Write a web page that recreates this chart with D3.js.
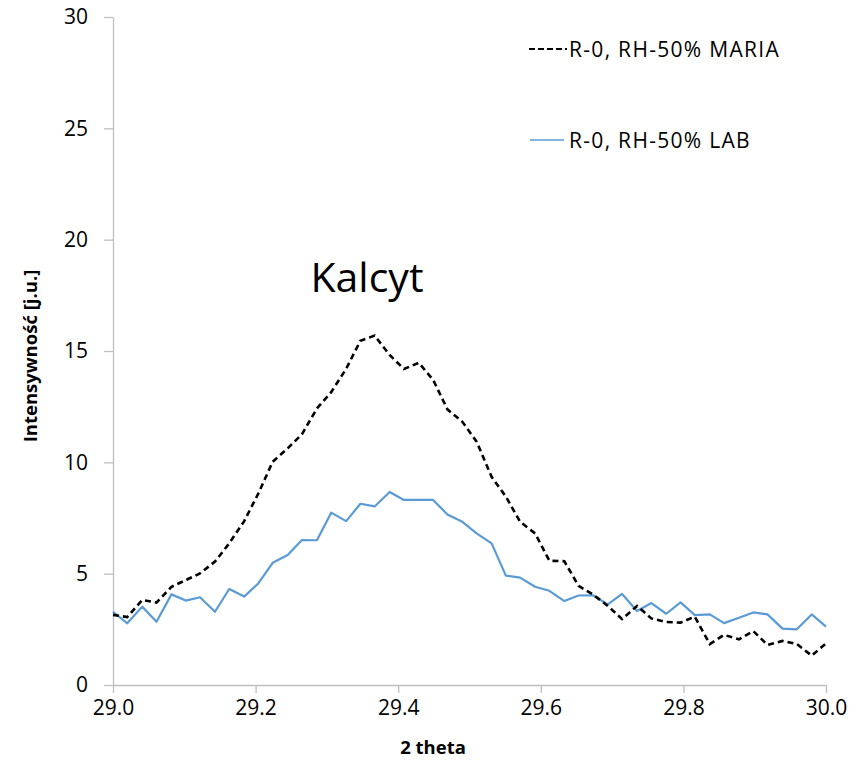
<!DOCTYPE html>
<html><head><meta charset="utf-8">
<script src="https://cdn.jsdelivr.net/npm/d3@7"></script>
<style>body{margin:0;background:#fff;} text{font-family:"Open Sans",sans-serif;}</style>
</head><body>
<svg id="c" width="865" height="769"></svg>
<script>
const xValues = [29.000,29.020,29.041,29.061,29.082,29.102,29.122,29.143,29.163,29.184,29.204,29.224,29.245,29.265,29.286,29.306,29.327,29.347,29.367,29.388,29.408,29.429,29.449,29.469,29.490,29.510,29.531,29.551,29.571,29.592,29.612,29.633,29.653,29.673,29.694,29.714,29.735,29.755,29.776,29.796,29.816,29.837,29.857,29.878,29.898,29.918,29.939,29.959,29.980,30.000];
const mariaValues = [3.15,3.05,3.82,3.70,4.41,4.71,5.01,5.54,6.36,7.36,8.61,10.03,10.63,11.26,12.42,13.15,14.20,15.46,15.69,14.82,14.19,14.47,13.70,12.38,11.82,10.93,9.35,8.46,7.33,6.81,5.58,5.56,4.45,4.07,3.55,2.96,3.55,2.99,2.83,2.80,3.07,1.84,2.25,2.05,2.42,1.80,1.98,1.84,1.32,1.87];
const labValues = [3.29,2.77,3.52,2.84,4.07,3.79,3.94,3.29,4.31,3.97,4.57,5.49,5.84,6.51,6.50,7.74,7.36,8.14,8.02,8.67,8.31,8.31,8.31,7.66,7.33,6.81,6.36,4.91,4.82,4.41,4.23,3.77,4.02,4.03,3.62,4.09,3.32,3.68,3.20,3.71,3.14,3.17,2.78,3.02,3.26,3.17,2.53,2.50,3.17,2.62];
const xTicks = [29.0,29.2,29.4,29.6,29.8,30.0];
const yTicks = [0,5,10,15,20,25,30];
const seriesNames = ["R-0, RH-50% MARIA","R-0, RH-50% LAB"];

const svg = d3.select("#c");
const x = d3.scaleLinear().domain([29,30]).range([113,826]);
const y = d3.scaleLinear().domain([0,30]).range([685,17]);
const axisColor = "#bfbfbf";

const xa = svg.append("g").attr("transform","translate(0,685)")
  .call(d3.axisBottom(x).tickValues(xTicks).tickFormat(d3.format(".1f")).tickSize(8).tickSizeOuter(0).tickPadding(7));
const ya = svg.append("g").attr("transform","translate(113,0)")
  .call(d3.axisLeft(y).tickValues(yTicks).tickSize(9).tickSizeOuter(0).tickPadding(16));
[xa,ya].forEach(a=>{
  a.select(".domain").attr("stroke",axisColor).attr("stroke-width",1.3);
  a.selectAll(".tick line").attr("stroke",axisColor).attr("stroke-width",1.3);
  a.selectAll(".tick text").attr("fill","#000").style("font-size","21px").style("font-family","Open Sans");
});

const line = d3.line().x((d,i)=>x(xValues[i])).y(d=>y(d));
svg.append("path").datum(labValues).attr("d",line).attr("fill","none")
  .attr("stroke","#5b9bd5").attr("stroke-width",2.2).attr("stroke-linejoin","round");
svg.append("path").datum(mariaValues).attr("d",line).attr("fill","none")
  .attr("stroke","#000").attr("stroke-width",2.6).attr("stroke-dasharray","6,4");

// legend
svg.append("line").attr("x1",529).attr("x2",567).attr("y1",49).attr("y2",49)
  .attr("stroke","#000").attr("stroke-width",2.2).attr("stroke-dasharray","6,3");
svg.append("text").attr("x",569).attr("y",57).text(seriesNames[0]).style("font-size","21px").style("letter-spacing","1.3px");
svg.append("line").attr("x1",530).attr("x2",564).attr("y1",140).attr("y2",140)
  .attr("stroke","#5b9bd5").attr("stroke-width",1.6);
svg.append("text").attr("x",569).attr("y",148).text(seriesNames[1]).style("font-size","21px").style("letter-spacing","1.3px");

// annotation
svg.append("text").attr("x",367).attr("y",292).attr("text-anchor","middle")
  .text("Kalcyt").style("font-size","41px");

// axis titles
svg.append("text").attr("x",433).attr("y",754).attr("text-anchor","middle")
  .text("2 theta").style("font-size","18.5px").style("font-weight","bold");
svg.append("text").attr("transform","translate(37,356) rotate(-90)").attr("text-anchor","middle")
  .text("Intensywność [j.u.]").style("font-size","18.5px").style("font-weight","bold");
</script>
</body></html>
